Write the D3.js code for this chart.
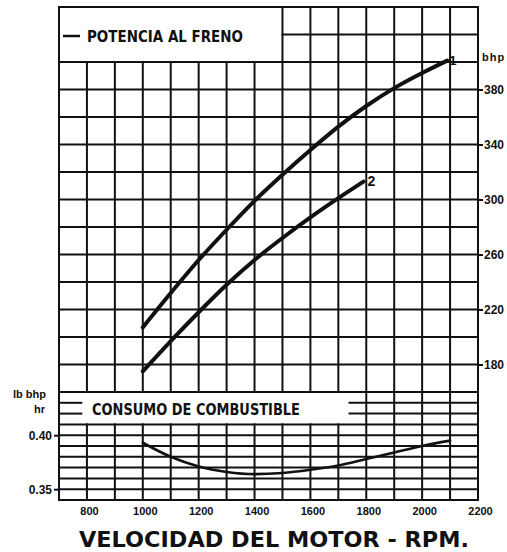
<!DOCTYPE html>
<html>
<head>
<meta charset="utf-8">
<script src="https://cdn.jsdelivr.net/npm/d3@7"></script>
<style>
  html, body { margin: 0; padding: 0; background: #fff; }
  svg { display: block; }
  text { font-family: "Liberation Sans", Arial, sans-serif; font-weight: bold; fill: #111; }
</style>
</head>
<body>
<svg id="chart" width="507" height="552"></svg>
<script>
// Engine speed (rpm) and brake horsepower, curves 1 and 2
const rpm1 = [1000, 1100, 1200, 1300, 1400, 1500, 1600, 1700, 1800, 1900, 2000, 2090];
const bhp1 = [207, 232, 256, 278, 299, 318, 336, 353, 368, 381, 392, 401];
const rpm2 = [1000, 1100, 1200, 1300, 1400, 1500, 1600, 1700, 1790];
const bhp2 = [175, 197, 218, 238, 256, 272, 287, 301, 313];
// Specific fuel consumption (lb / bhp·hr)
const rpmFuel = [1000, 1100, 1200, 1300, 1400, 1500, 1600, 1700, 1800, 1900, 2000, 2100];
const fuel = [0.393, 0.380, 0.371, 0.366, 0.364, 0.365, 0.368, 0.372, 0.378, 0.384, 0.390, 0.395];

// Axis ticks
const rpmTicks = [800, 1000, 1200, 1400, 1600, 1800, 2000, 2200];
const bhpTicks = [180, 220, 260, 300, 340, 380];
const fuelTicks = [0.35, 0.40];

const svg = d3.select("#chart");
const ink = "#111";

const x = d3.scaleLinear([700, 2200], [59, 478]);
const yP = d3.scaleLinear([160, 440], [392, 7]);
const yC = d3.scaleLinear([0.34, 0.44], [500, 392]);

const grid = svg.append("g")
  .attr("stroke", ink).attr("stroke-width", 2).attr("stroke-linecap", "square");

function hline(x0, x1, y) {
  grid.append("line").attr("x1", x(x0)).attr("x2", x(x1)).attr("y1", y).attr("y2", y);
}
function vline(r, y0, y1) {
  grid.append("line").attr("x1", x(r)).attr("x2", x(r)).attr("y1", y0).attr("y2", y1);
}

// Upper panel: power grid, with the legend box in the top-left corner
const rpmGrid = d3.range(700, 2201, 100);
rpmGrid.forEach(r => {
  const top = (r <= 700 || r >= 1500) ? 440 : 400;
  vline(r, yP(top), yP(160));
});
d3.range(160, 441, 20).forEach(b => {
  if (b === 420) hline(1500, 2200, yP(b));
  else hline(700, 2200, yP(b));
});

// Fuel legend band between the two panels
vline(700, yC(0.44), yC(0.41));
[1800, 1900, 2000, 2100, 2200].forEach(r => vline(r, yC(0.44), yC(0.41)));
[0.42, 0.43].forEach(v => {
  hline(700, 780, yC(v));
  hline(1740, 2200, yC(v));
});

// Lower panel: fuel consumption grid
rpmGrid.forEach(r => vline(r, yC(0.41), yC(0.34)));
d3.range(0, 8).map(i => 0.34 + i * 0.01).forEach(v => hline(700, 2200, yC(v)));

// Curves
const powerLine = d3.line().x(d => x(d[0])).y(d => yP(d[1])).curve(d3.curveMonotoneX);
const fuelLine = d3.line().x(d => x(d[0])).y(d => yC(d[1])).curve(d3.curveMonotoneX);

svg.append("path")
  .attr("d", powerLine(d3.zip(rpm1, bhp1)))
  .attr("fill", "none").attr("stroke", ink).attr("stroke-width", 4).attr("stroke-linecap", "round");
svg.append("path")
  .attr("d", powerLine(d3.zip(rpm2, bhp2)))
  .attr("fill", "none").attr("stroke", ink).attr("stroke-width", 4).attr("stroke-linecap", "round");
svg.append("path")
  .attr("d", fuelLine(d3.zip(rpmFuel, fuel)))
  .attr("fill", "none").attr("stroke", ink).attr("stroke-width", 2.6).attr("stroke-linecap", "round");

// Curve numbers
svg.append("text").attr("x", x(rpm1[rpm1.length - 1]) + 2).attr("y", yP(bhp1[bhp1.length - 1]) + 4)
  .attr("font-size", 13).text("1");
svg.append("text").attr("x", x(rpm2[rpm2.length - 1]) + 4).attr("y", yP(bhp2[bhp2.length - 1]) + 4)
  .attr("font-size", 14).text("2");

// Right axis (bhp)
const rightAxis = svg.append("g")
  .attr("transform", `translate(${x(2200)},0)`)
  .call(d3.axisRight(yP).tickValues(bhpTicks).tickSize(5).tickPadding(1).tickFormat(d3.format("d")));
rightAxis.select(".domain").remove();
rightAxis.selectAll("line").attr("stroke", ink).attr("stroke-width", 2);
rightAxis.selectAll("text").attr("font-size", 12).attr("fill", ink)
  .style("font-family", "'Liberation Sans', Arial, sans-serif").style("font-weight", "bold");
svg.append("text").attr("x", 482).attr("y", 61).attr("font-size", 11)
  .attr("letter-spacing", 1).text("bhp");

// Left axis (fuel)
const leftAxis = svg.append("g")
  .attr("transform", `translate(${x(700)},0)`)
  .call(d3.axisLeft(yC).tickValues(fuelTicks).tickSize(5).tickPadding(2).tickFormat(d3.format(".2f")));
leftAxis.select(".domain").remove();
leftAxis.selectAll("line").attr("stroke", ink).attr("stroke-width", 2);
leftAxis.selectAll("text").attr("font-size", 12).attr("fill", ink)
  .style("font-family", "'Liberation Sans', Arial, sans-serif").style("font-weight", "bold");
svg.append("text").attr("x", 13).attr("y", 398).attr("font-size", 11).text("lb bhp");
svg.append("text").attr("x", 34).attr("y", 413).attr("font-size", 11).text("hr");

// Bottom axis (rpm)
const bottomAxis = svg.append("g")
  .attr("transform", `translate(2,${yC(0.34)})`)
  .call(d3.axisBottom(x).tickValues(rpmTicks).tickSize(0).tickPadding(7).tickFormat(d3.format("d")));
bottomAxis.select(".domain").remove();
bottomAxis.selectAll("text").attr("font-size", 11).attr("fill", ink)
  .style("font-family", "'Liberation Sans', Arial, sans-serif").style("font-weight", "bold");

// Legend labels
svg.append("line").attr("x1", 63).attr("x2", 80).attr("y1", 36).attr("y2", 36)
  .attr("stroke", ink).attr("stroke-width", 2.5);
svg.append("text").attr("x", 87).attr("y", 42).attr("font-size", 15)
  .attr("textLength", 156).attr("lengthAdjust", "spacingAndGlyphs")
  .style("font-family", "'DejaVu Sans', sans-serif").text("POTENCIA AL FRENO");
svg.append("text").attr("x", 92).attr("y", 415).attr("font-size", 15)
  .attr("textLength", 208).attr("lengthAdjust", "spacingAndGlyphs")
  .style("font-family", "'DejaVu Sans', sans-serif").text("CONSUMO DE COMBUSTIBLE");

// Title
svg.append("text").attr("x", 79).attr("y", 547).attr("font-size", 22)
  .attr("textLength", 390).attr("lengthAdjust", "spacingAndGlyphs")
  .style("font-family", "'DejaVu Sans', sans-serif").text("VELOCIDAD DEL MOTOR - RPM.");
</script>
</body>
</html>
